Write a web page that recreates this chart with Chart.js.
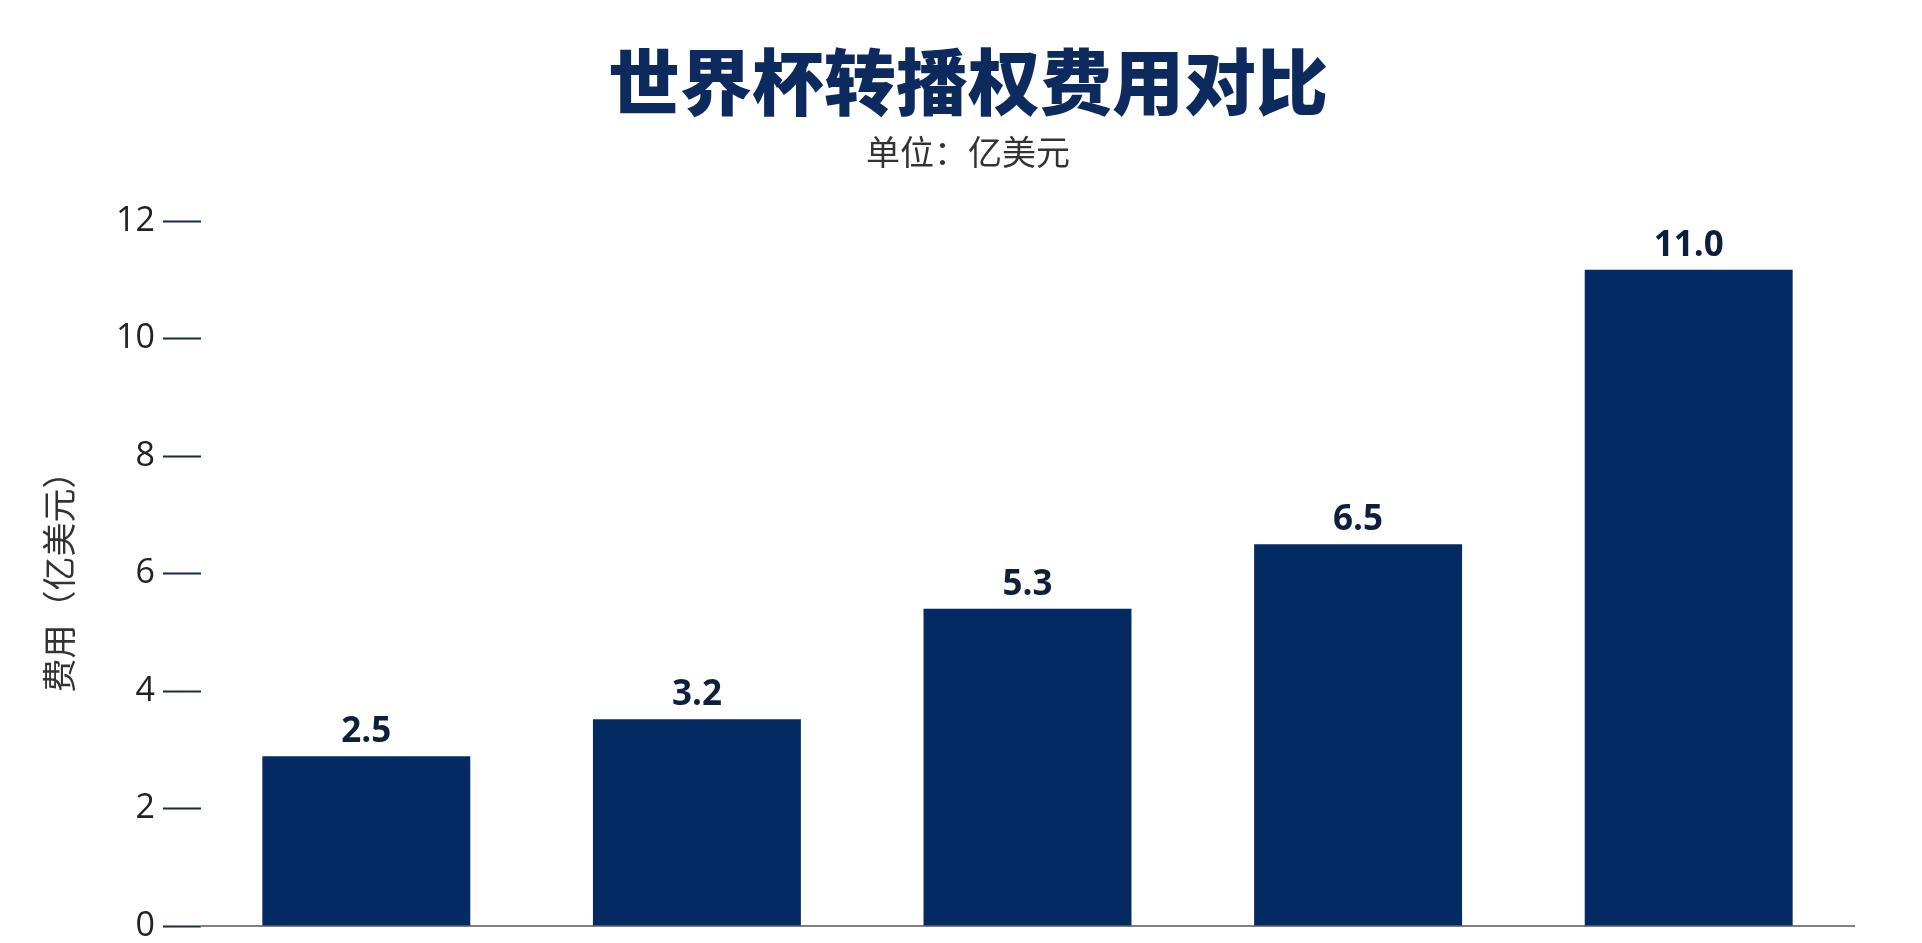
<!DOCTYPE html>
<html>
<head>
<meta charset="utf-8">
<script src="https://cdn.jsdelivr.net/npm/chart.js@4/dist/chart.umd.min.js"></script>
<style>
  html, body { margin: 0; padding: 0; background: #ffffff; }
  #wrap { width: 1922px; height: 943px; position: relative; }
</style>
</head>
<body>
<div id="wrap"><canvas id="c"></canvas></div>
<script>
// ---- data ----
const categories = ['1', '2', '3', '4', '5'];
const barValues = [2.89, 3.52, 5.40, 6.50, 11.17];
const valueLabels = ['2.5', '3.2', '5.3', '6.5', '11.0'];
const yTicks = [0, 2, 4, 6, 8, 10, 12];
const titleText = '世界杯转播权费用对比';
const subtitleText = '单位：亿美元';
const yAxisTitle = '费用（亿美元）';

const barColor = '#042a63';

const valueLabelPlugin = {
  id: 'valueLabels',
  afterDatasetsDraw(chart) {
    const ctx = chart.ctx;
    const meta = chart.getDatasetMeta(0);
    ctx.save();
    ctx.font = 'bold 35px "Open Sans", sans-serif';
    ctx.fillStyle = '#0e1f3d';
    ctx.textAlign = 'center';
    ctx.textBaseline = 'alphabetic';
    meta.data.forEach((el, i) => {
      ctx.fillText(valueLabels[i], el.x, el.y - 14);
    });
    ctx.restore();
  }
};

const bgPlugin = {
  id: 'bg',
  beforeDraw(chart) {
    const ctx = chart.ctx;
    ctx.save();
    ctx.fillStyle = '#ffffff';
    ctx.fillRect(0, 0, chart.width, chart.height);
    ctx.restore();
  }
};

new Chart(document.getElementById('c'), {
  type: 'bar',
  data: {
    labels: categories,
    datasets: [{
      data: barValues,
      backgroundColor: barColor,
      borderWidth: 0,
      categoryPercentage: 1.0,
      barPercentage: 0.629
    }]
  },
  options: {
    responsive: true,
    maintainAspectRatio: false,
    animation: false,
    devicePixelRatio: 1,
    layout: { padding: { top: 0, left: 14, right: 0, bottom: 17 } },
    plugins: {
      legend: { display: false },
      tooltip: { enabled: false },
      title: {
        display: true,
        text: titleText,
        color: '#0d2a5e',
        font: { family: '"Noto Sans CJK SC", sans-serif', size: 72, weight: '900', lineHeight: 1.2 },
        padding: { top: 38.8, bottom: 0 }
      },
      subtitle: {
        display: true,
        text: subtitleText,
        color: '#333333',
        font: { family: '"Noto Sans CJK SC", sans-serif', size: 34, weight: 'normal', lineHeight: 1.2 },
        padding: { top: 6, bottom: 49 }
      }
    },
    scales: {
      x: {
        display: true,
        ticks: { display: false },
        grid: { display: true, drawOnChartArea: false, drawTicks: false },
        border: { display: true, color: '#808080', width: 2 }
      },
      y: {
        position: 'left',
        min: 0,
        max: 12,
        afterBuildTicks(scale) {
          scale.ticks = yTicks.map(v => ({ value: v }));
        },
        afterFit(scale) { scale.width = 187; },
        ticks: {
          color: '#222222',
          padding: 8,
          font: { family: '"Open Sans", sans-serif', size: 34, lineHeight: 0.5 }
        },
        grid: {
          display: true,
          drawOnChartArea: false,
          drawTicks: true,
          tickLength: 38,
          tickWidth: 2,
          tickColor: '#1b2a48'
        },
        border: { display: false },
        title: {
          display: true,
          text: yAxisTitle,
          color: '#333333',
          font: { family: '"Noto Sans CJK SC", sans-serif', size: 34, lineHeight: 1.2 },
          padding: { top: 24.6, bottom: 0 }
        }
      },
      yR: {
        position: 'right',
        display: true,
        ticks: { display: false },
        grid: { display: false },
        border: { display: false },
        afterFit(scale) { scale.width = 68; }
      }
    }
  },
  plugins: [bgPlugin, valueLabelPlugin]
});
</script>
</body>
</html>
